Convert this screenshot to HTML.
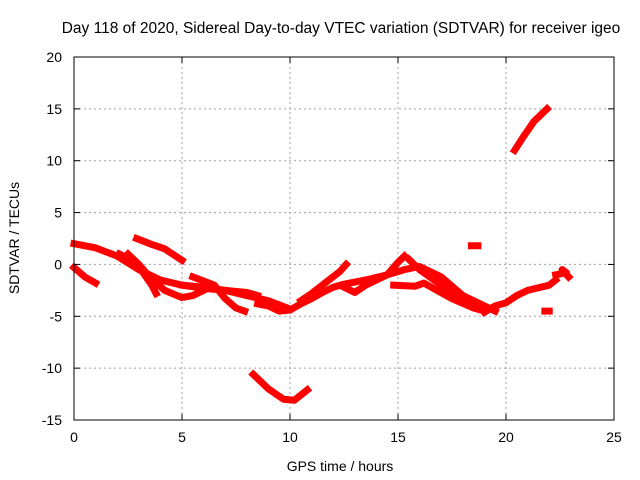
<!DOCTYPE html>
<html><head><meta charset="utf-8"><style>
body{margin:0;background:#fff}
svg{display:block;font-family:"Liberation Sans",sans-serif}
</style></head><body>
<svg id="c" width="640" height="480">
<text x="341" y="33" text-anchor="middle" font-size="15.5">Day 118 of 2020, Sidereal Day-to-day VTEC variation (SDTVAR) for receiver igeo</text>
<text x="340" y="471" text-anchor="middle" font-size="14">GPS time / hours</text>
<text transform="translate(19,238) rotate(-90)" text-anchor="middle" font-size="14">SDTVAR / TECUs</text>
<g id="grid"></g><g id="data"></g><g id="axes"></g>
</svg>
<script>
const xTicks=[0,5,10,15,20,25];
const yTicks=[20,15,10,5,0,-5,-10,-15];
const trackA=[[0,2],[1,1.6],[2,0.8],[3,-0.5],[4,-1.5],[5,-2],[6,-2.2],[7,-2.5],[8,-3],[9,-3.5],[10,-4.3]];
const trackB=[[0,-0.3],[0.5,-1.2],[1,-1.8]];
const trackC=[[2.1,1.0],[2.6,0.5],[3.2,-0.8],[3.6,-2],[3.8,-2.8]];
const trackD=[[2.9,2.5],[3.5,2],[4.2,1.5],[5,0.4]];
const trackE=[[2.5,1.0],[3,0],[3.5,-1.2],[4.2,-2.5],[5,-3.2],[5.5,-3],[6,-2.5]];
const trackF=[[5.5,-1.2],[6.5,-2],[7,-3.3],[7.5,-4.2],[7.9,-4.5]];
const trackG=[[5,-2],[6,-2.3],[7,-2.5],[8,-2.7],[8.5,-3]];
const trackH=[[8.5,-3.8],[9,-4],[9.5,-4.5],[10,-4.4],[10.5,-3.8],[11,-3.3],[11.5,-2.7],[12,-2.2],[12.5,-1.9],[13.5,-1.5],[14.5,-1],[15.3,-0.5],[16,-0.2],[17,-1.2],[18,-3],[19,-4],[19.5,-4.5]];
const trackI=[[10.5,-3.5],[11,-2.8],[11.8,-1.5],[12.3,-0.7],[12.6,0]];
const trackJ=[[12.5,-2.2],[13,-2.7],[13.5,-2],[14.5,-1],[15,0.2],[15.3,0.8]];
const trackK=[[14.8,-2],[15.8,-2.1],[16.2,-1.8],[16.8,-2.5],[17.5,-3.3],[18.5,-4.2],[19,-4.5]];
const trackL=[[15.5,0.5],[16,-0.5],[17,-2],[18,-3.5],[18.8,-4.3]];
const trackM=[[19,-4.6],[19.5,-4],[20,-3.7],[20.5,-3],[21,-2.5],[22,-2],[22.3,-1.5]];
const trackN=[[22.3,-1],[22.8,-0.8],[22.6,-0.5],[22.9,-1.2]];
const trackO=[[18.4,1.8],[18.7,1.8]];
const trackP=[[21.8,-4.5],[22,-4.5]];
const trackQ=[[20.4,11],[20.8,12.3],[21.3,13.8],[21.9,15]];
const trackR=[[8.3,-10.6],[9,-12],[9.7,-13],[10.2,-13.1],[10.8,-12.1]];
const tracks=[trackA,trackB,trackC,trackD,trackE,trackF,trackG,trackH,trackI,trackJ,trackK,trackL,trackM,trackN,trackO,trackP,trackQ,trackR];
const X0=74,X1=614,Y0=57,Y1=420;
const sx=v=>X0+(v-0)/25*(X1-X0);
const sy=v=>Y1-(v+15)/35*(Y1-Y0);
const NS="http://www.w3.org/2000/svg";
function mk(tag,attrs,parent){const e=document.createElementNS(NS,tag);for(const k in attrs)e.setAttribute(k,attrs[k]);parent.appendChild(e);return e;}
const grid=document.getElementById('grid'),axes=document.getElementById('axes'),data=document.getElementById('data');
xTicks.forEach(t=>{
 if(t>0&&t<25){const g=mk('line',{x1:sx(t),x2:sx(t),y1:Y0,y2:Y1,stroke:'#a0a0a0','stroke-dasharray':'2,3'},grid);
 
 }
 mk('line',{x1:sx(t),x2:sx(t),y1:Y1,y2:Y1-6,stroke:'#000'},axes);
 mk('line',{x1:sx(t),x2:sx(t),y1:Y0,y2:Y0+6,stroke:'#000'},axes);
 const l=mk('text',{x:sx(t),y:Y1+22,'text-anchor':'middle','font-size':14},axes);l.textContent=t;
 
 
});
yTicks.forEach(t=>{
 if(t>-15&&t<20){const g=mk('line',{x1:X0,x2:X1,y1:sy(t),y2:sy(t),stroke:'#a0a0a0','stroke-dasharray':'2,3'},grid);
 
 }
 mk('line',{x1:X0,x2:X0+6,y1:sy(t),y2:sy(t),stroke:'#000'},axes);
 mk('line',{x1:X1,x2:X1-6,y1:sy(t),y2:sy(t),stroke:'#000'},axes);
 const l=mk('text',{x:X0-12,y:sy(t)+5,'text-anchor':'end','font-size':14},axes);l.textContent=t;
 
 
});
const fr=mk('rect',{x:X0,y:Y0,width:X1-X0,height:Y1-Y0,fill:'none',stroke:'#000'},axes);


tracks.forEach((tr,i)=>{
 const p=mk('polyline',{points:tr.map(d=>sx(d[0])+','+sy(d[1])).join(' '),fill:'none',stroke:'#ff0000','stroke-width':7,'stroke-linejoin':'round','stroke-linecap':'square'},data);
 
 
});
</script>
</body></html>
